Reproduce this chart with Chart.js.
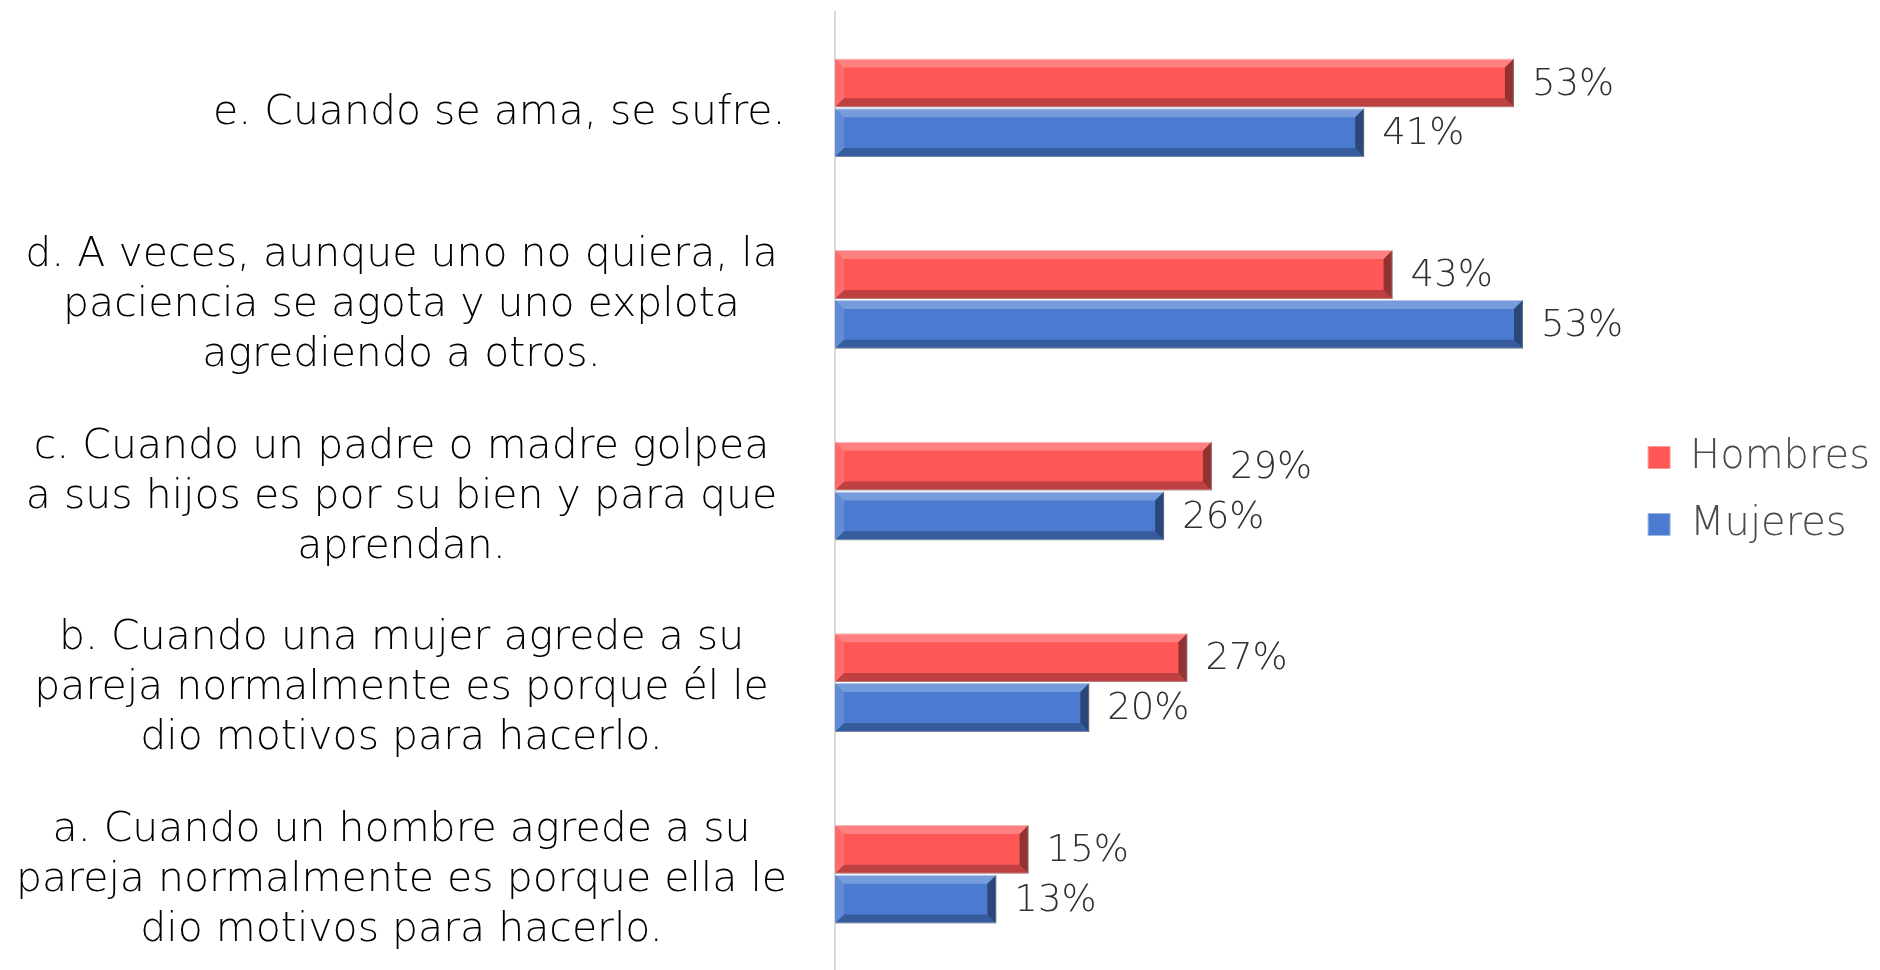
<!DOCTYPE html>
<html>
<head>
<meta charset="utf-8">
<script src="https://cdn.jsdelivr.net/npm/chart.js@4.4.1/dist/chart.umd.min.js"></script>
<style>
  html, body { margin: 0; padding: 0; background: #fff; }
  #wrap { width: 1880px; height: 970px; }
</style>
</head>
<body>
<div id="wrap"><canvas id="barChart"></canvas></div>
<script>
// categories (top to bottom)
const categories = [
    ['e. Cuando se ama, se sufre.'],
    ['d. A veces, aunque uno no quiera, la', 'paciencia se agota y uno explota', 'agrediendo a otros.'],
    ['c. Cuando un padre o madre golpea', 'a sus hijos es por su bien y para que', 'aprendan.'],
    ['b. Cuando una mujer agrede a su', 'pareja normalmente es porque él le', 'dio motivos para hacerlo.'],
    ['a. Cuando un hombre agrede a su', 'pareja normalmente es porque ella le', 'dio motivos para hacerlo.']
];

// percentages
const hombres = [52.6, 43.2, 29.2, 27.3, 15.0];
const mujeres = [41.0, 53.3, 25.5, 19.7, 12.5];

const FONT = '"DejaVu Sans", sans-serif';

// bevel look on every bar (light top edge, dark bottom and end)
const bevelPlugin = {
    id: 'bevel',
    afterDatasetsDraw(chart) {
        const ctx = chart.ctx;
        chart.data.datasets.forEach((ds, i) => {
            const meta = chart.getDatasetMeta(i);
            meta.data.forEach(bar => {
                const { x, y, base, height } = bar.getProps(['x', 'y', 'base', 'height'], true);
                const top = y - height / 2, bottom = y + height / 2;
                const b = Math.min(9, height / 4);
                ctx.save();
                // top highlight
                ctx.fillStyle = 'rgba(255,255,255,0.25)';
                ctx.beginPath();
                ctx.moveTo(base, top); ctx.lineTo(x, top);
                ctx.lineTo(x - b, top + b); ctx.lineTo(base + b, top + b);
                ctx.closePath(); ctx.fill();
                // bottom shade
                ctx.fillStyle = 'rgba(0,0,0,0.25)';
                ctx.beginPath();
                ctx.moveTo(base, bottom); ctx.lineTo(x, bottom);
                ctx.lineTo(x - b, bottom - b); ctx.lineTo(base + b, bottom - b);
                ctx.closePath(); ctx.fill();
                // right end
                ctx.fillStyle = 'rgba(0,0,0,0.42)';
                ctx.beginPath();
                ctx.moveTo(x, top); ctx.lineTo(x, bottom);
                ctx.lineTo(x - b, bottom - b); ctx.lineTo(x - b, top + b);
                ctx.closePath(); ctx.fill();
                // left end
                ctx.fillStyle = 'rgba(255,255,255,0.12)';
                ctx.beginPath();
                ctx.moveTo(base, top); ctx.lineTo(base, bottom);
                ctx.lineTo(base + b, bottom - b); ctx.lineTo(base + b, top + b);
                ctx.closePath(); ctx.fill();
                ctx.restore();
            });
        });
    }
};

// value labels at the end of each bar
const valueLabels = {
    id: 'valueLabels',
    afterDatasetsDraw(chart) {
        const ctx = chart.ctx;
        ctx.save();
        ctx.font = '200 37px ' + FONT;
        ctx.fillStyle = '#303030';
        ctx.textAlign = 'left';
        ctx.textBaseline = 'middle';
        chart.data.datasets.forEach((ds, i) => {
            chart.getDatasetMeta(i).data.forEach((bar, j) => {
                ctx.fillText(Math.round(ds.data[j]) + '%', bar.x + 18, bar.y + 2);
            });
        });
        ctx.restore();
    }
};

new Chart(document.getElementById('barChart'), {
    type: 'bar',
    data: {
        labels: categories,
        datasets: [{
            label: 'Hombres',
            data: hombres,
            backgroundColor: '#FF5656',
            borderColor: '#F4A0A0',
            borderWidth: 1,
            categoryPercentage: 0.52,
            barPercentage: 0.98
        }, {
            label: 'Mujeres',
            data: mujeres,
            backgroundColor: '#4A7BD0',
            borderColor: '#9DB6E2',
            borderWidth: 1,
            categoryPercentage: 0.52,
            barPercentage: 0.98
        }]
    },
    options: {
        indexAxis: 'y',
        responsive: true,
        maintainAspectRatio: false,
        animation: false,
        layout: { padding: { top: 12, bottom: 0, left: 0, right: 0 } },
        plugins: {
            legend: {
                position: 'right',
                align: 'center',
                labels: {
                    color: '#4A4A4A',
                    font: { family: FONT, size: 40, weight: '200' },
                    boxWidth: 22,
                    boxHeight: 22,
                    padding: 27
                }
            },
            tooltip: { enabled: false }
        },
        scales: {
            x: {
                display: false,
                min: 0,
                max: 60.9
            },
            y: {
                grid: { display: false },
                border: { display: true, color: '#D9D9D9', width: 2 },
                ticks: {
                    color: '#000',
                    font: { family: FONT, size: 41, weight: '200', lineHeight: 1.22 },
                    crossAlign: 'center',
                    padding: 40,
                    labelOffset: 6,
                    // the one-line label sits against the axis, like in the original
                    callback(value) {
                        const lbl = this.getLabelForValue(value);
                        return Array.isArray(lbl) && lbl.length === 1 ? '\u00A0'.repeat(15) + lbl[0] : lbl;
                    }
                },
                afterFit(scale) {
                    scale.width = 835;
                    // multi-line labels fit inside their bands, no extra room needed
                    scale.paddingTop = 0;
                    scale.paddingBottom = 0;
                }
            }
        }
    },
    plugins: [bevelPlugin, valueLabels]
});
</script>
</body>
</html>
